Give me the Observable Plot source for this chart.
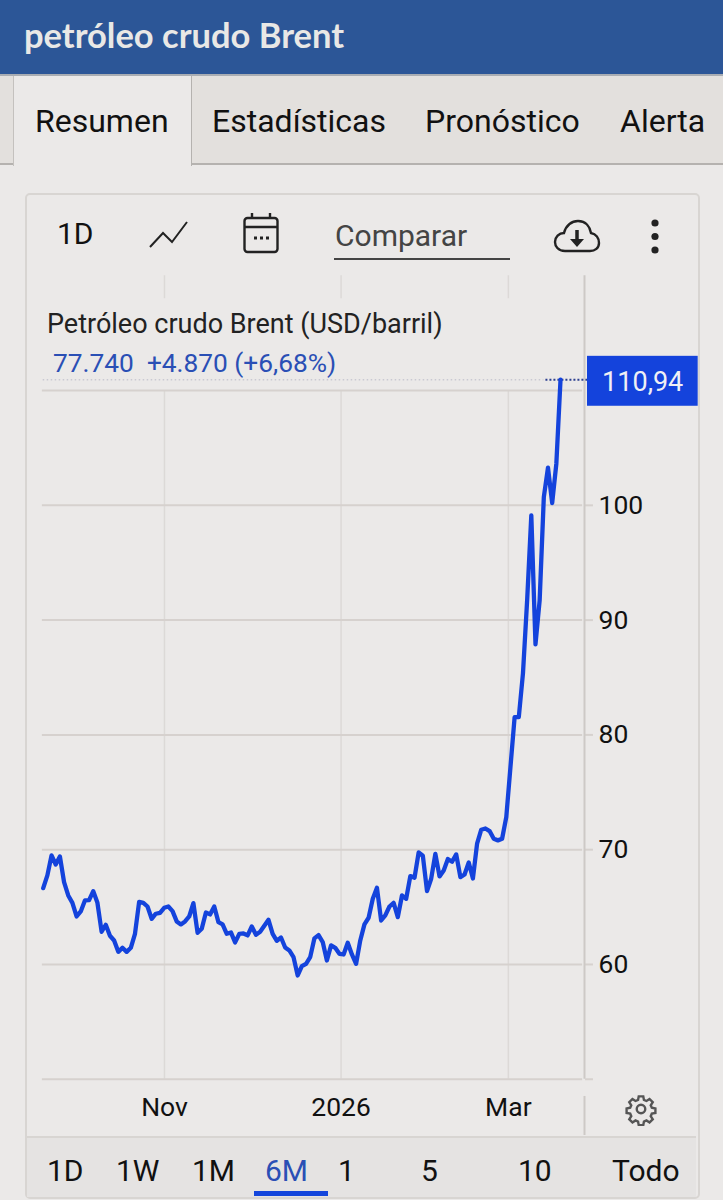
<!DOCTYPE html>
<html lang="es">
<head>
<meta charset="utf-8">
<script src="https://cdn.jsdelivr.net/npm/d3@7"></script>
<script src="https://cdn.jsdelivr.net/npm/@observablehq/plot@0.6"></script>
<style>
html,body{margin:0;padding:0;background:#ebe9e8;}
#page{position:relative;width:723px;height:1200px;overflow:hidden;font-family:Roboto,sans-serif;color:#111;background:#ebe9e8;}
.a{position:absolute;white-space:nowrap;line-height:1;}
#chart{position:absolute;left:0;top:270px;}
#chart svg{display:block;overflow:visible;background:transparent;}
</style>
</head>
<body>
<div id="page">
  <div class="a" style="left:0;top:0;width:723px;height:74px;background:#2c5697;border-bottom:2px solid #a9adb3"></div>
  <div class="a" style="left:24px;top:14px;font:700 34.500px Lato,sans-serif;color:#e9e8e6">petróleo crudo Brent</div>

  <div class="a" style="left:0;top:76px;width:723px;height:87px;background:#e3e0dd;border-bottom:2px solid #b5b2af"></div>
  <div class="a" style="left:13px;top:76px;width:177px;height:90px;background:#ebe9e8;border-left:1px solid #c4c1be;border-right:1px solid #b5b2af"></div>
  <div class="a" style="left:35px;top:105px;font-size:32px">Resumen</div>
  <div class="a" style="left:212px;top:105px;font-size:32px">Estadísticas</div>
  <div class="a" style="left:425px;top:105px;font-size:32px">Pronóstico</div>
  <div class="a" style="left:620px;top:105px;font-size:32px">Alerta</div>

  <div class="a" style="left:25px;top:193px;width:671px;height:1002px;border:2px solid #d8d5d2;border-radius:5px"></div>
  <div class="a" style="left:27px;top:1136px;width:669px;height:59px;background:#e5e3e2;border-top:2px solid #d8d5d2"></div>

  <div class="a" style="left:57px;top:219px;font-size:30px">1D</div>
  <svg class="a" style="left:148px;top:220px" width="42" height="30" viewBox="0 0 42 30" fill="none" stroke="#222" stroke-width="2"><path d="M2 27 L15 13 L24 22 L39 2"/></svg>
  <svg class="a" style="left:241px;top:212px" width="40" height="42" viewBox="0 0 40 42" fill="none" stroke="#222" stroke-width="2.4"><rect x="3.5" y="6" width="33" height="34" rx="3"/><path d="M3.5 15H36.5M11 1V7M29 1V7"/><path d="M13 26h3M19 26h3M25 26h3" stroke-width="3"/></svg>
  <div class="a" style="left:335px;top:221px;font-size:30px;color:#444">Comparar</div>
  <div class="a" style="left:334px;top:258px;width:176px;height:2px;background:#444"></div>
  <svg class="a" style="left:553px;top:218px" width="48" height="36" viewBox="0 0 48 36" fill="none" stroke="#222" stroke-width="2.4"><path d="M12 33C5 33 2 28 2 24C2 19 6 15 11 15C13 7 19 3 25 3C33 3 37 9 38 15C43 16 46 20 46 25C46 30 42 33 37 33Z"/><path d="M24 12V24" stroke-width="3.5"/><path d="M17 21H31L24 29Z" fill="#222" stroke="none"/></svg>
  <svg class="a" style="left:645px;top:218px" width="20" height="38" viewBox="0 0 20 38" fill="#222"><circle cx="10" cy="5" r="3.6"/><circle cx="10" cy="18.500" r="3.6"/><circle cx="10" cy="32" r="3.6"/></svg>

  <div id="chart"></div>

  <div class="a" style="left:47px;top:311px;font-size:27px;color:#222">Petróleo crudo Brent (USD/barril)</div>
  <div class="a" style="left:53px;top:350px;font-size:26.300px;color:#2a4fb5">77.740&nbsp; +4.870 (+6,68%)</div>

  <svg class="a" style="left:625px;top:1092px" width="32" height="34" viewBox="0 0 24 24" fill="none" stroke="#555" stroke-width="1.8"><circle cx="12" cy="12" r="3.2"/><path d="M10.3 2.5h3.4l.5 2.7 1.9.8 2.3-1.500 2.400 2.400-1.500 2.300.8 1.900 2.700.5v3.400l-2.700.5-.8 1.900 1.500 2.300-2.400 2.400-2.300-1.500-1.900.8-.5 2.700h-3.400l-.5-2.700-1.900-.8-2.300 1.500-2.400-2.400 1.500-2.300-.8-1.900-2.700-.5v-3.400l2.700-.5.8-1.900-1.500-2.300 2.400-2.400 2.300 1.500 1.900-.8z"/></svg>

  <div class="a" style="left:47px;top:1156px;font-size:30px">1D</div>
  <div class="a" style="left:116px;top:1156px;font-size:30px">1W</div>
  <div class="a" style="left:192px;top:1156px;font-size:30px">1M</div>
  <div class="a" style="left:265px;top:1156px;font-size:30px;color:#2a4fb5">6M</div>
  <div class="a" style="left:254px;top:1191px;width:74px;height:5px;background:#1446dc"></div>
  <div class="a" style="left:338px;top:1156px;font-size:30px">1</div>
  <div class="a" style="left:421px;top:1156px;font-size:30px">5</div>
  <div class="a" style="left:518px;top:1156px;font-size:30px">10</div>
  <div class="a" style="left:612px;top:1156px;font-size:30px">Todo</div>
</div>
<script>
// Brent closing prices (USD/barrel), one value per trading day
const prices = [
  66.65,67.76,69.50,68.71,69.41,67.17,66.01,65.37,64.18,64.62,
  65.58,65.61,66.39,65.37,62.85,63.46,62.50,62.09,61.10,61.45,
  61.10,61.45,62.67,65.46,65.37,65.05,63.98,64.42,64.50,64.94,
  65.05,64.65,63.75,63.49,63.75,64.18,65.34,62.76,63.11,64.53,
  64.36,65.05,63.69,63.49,62.67,62.79,61.92,62.67,62.70,62.53,
  63.31,62.59,62.85,63.37,63.89,62.67,62.06,62.35,61.48,61.22,
  60.64,59.04,59.85,60.06,60.64,62.27,62.56,61.95,60.35,61.66,
  61.45,60.93,60.87,61.89,60.87,60.06,62.09,63.49,64.07,65.72,
  66.68,63.83,64.27,65.05,65.37,64.12,66.01,65.72,67.70,67.55,
  69.76,69.47,66.39,67.47,69.64,67.67,68.19,69.18,68.95,69.59,
  67.61,67.84,68.89,67.49,70.52,71.74,71.85,71.62,70.95,70.81,
  70.95,72.84,77.19,81.55,81.55,85.36,91.72,99.13,87.89,91.72,
  100.72,103.28,100.20,103.63,110.94
];
const yTicks = [60,70,80,90,100];
const gridLevels = [60,70,80,90,100,110];
const xTickPositions = [29.07,71.4,111.5];
const xTickLabels = ["Nov","2026","Mar"];
const lastPrice = 110.94;
const lastLabel = "110,94";
const xEnd = 129.75;

const rows = prices.map((v,i)=>({i,v}));
const lineBlue = "#1443dc";
const fontFamily = "Roboto,sans-serif";

const plot = Plot.plot({
  width:723, height:860,
  marginLeft:42.7, marginRight:139, marginTop:5.25, marginBottom:51.25,
  style:{background:"transparent",fontFamily,overflow:"visible"},
  x:{type:"linear",domain:[0,xEnd]},
  y:{type:"linear",domain:[50,120]},
  marks:[
    Plot.ruleX(xTickPositions,{y1:50,y2:110,stroke:"#dcd9d7",strokeWidth:1.5}),
    Plot.ruleX(xTickPositions,{y1:118,y2:120,stroke:"#dcd9d7",strokeWidth:1.5}),
    Plot.ruleY(gridLevels,{x1:-0.2,x2:129.3,stroke:"#d6d1ce",strokeWidth:2}),
    Plot.ruleY(yTicks,{x1:129.9,x2:131.9,stroke:"#d6d1ce",strokeWidth:2}),
    Plot.ruleX([xEnd],{y1:50,y2:120,stroke:"#cdc9c6",strokeWidth:2}),
    Plot.ruleX([xEnd],{y1:48.5,y2:45.1,stroke:"#cdc9c6",strokeWidth:2}),
    Plot.ruleY([50],{x1:-0.2,x2:129.3,stroke:"#d6d1ce",strokeWidth:2}),
    Plot.ruleY([50],{x1:130,x2:131.9,stroke:"#d6d1ce",strokeWidth:2}),
    Plot.ruleY([lastPrice],{x1:0,x2:120,stroke:"#c9c9d2",strokeWidth:1.5,strokeDasharray:"1.5,2.5"}),
    Plot.ruleY([lastPrice],{x1:120.5,x2:130.5,stroke:"#2d3f8f",strokeWidth:2,strokeDasharray:"2,2"}),
    Plot.line(rows,{x:"i",y:"v",stroke:lineBlue,strokeWidth:4.3,strokeLinejoin:"round",strokeLinecap:"round"}),
    Plot.rect([lastPrice],{x1:130.47,x2:157,y1:108.63,y2:112.98,fill:lineBlue}),
    Plot.text([lastLabel],{x:143.7,y:110.94,dy:3,fill:"#f0f0f5",fontSize:27,textAnchor:"middle",fontFamily}),
    Plot.axisY(yTicks,{anchor:"right",tickSize:0,tickPadding:14,fontSize:26.5,fill:"#111",label:null,tickFormat:d=>String(d)}),
    Plot.axisX(xTickPositions,{anchor:"bottom",tickSize:0,tickPadding:18,fontSize:26.5,fill:"#111",label:null,tickFormat:d=>xTickLabels[xTickPositions.indexOf(d)]})
  ]
});
document.getElementById("chart").appendChild(plot);
</script>
</body>
</html>
